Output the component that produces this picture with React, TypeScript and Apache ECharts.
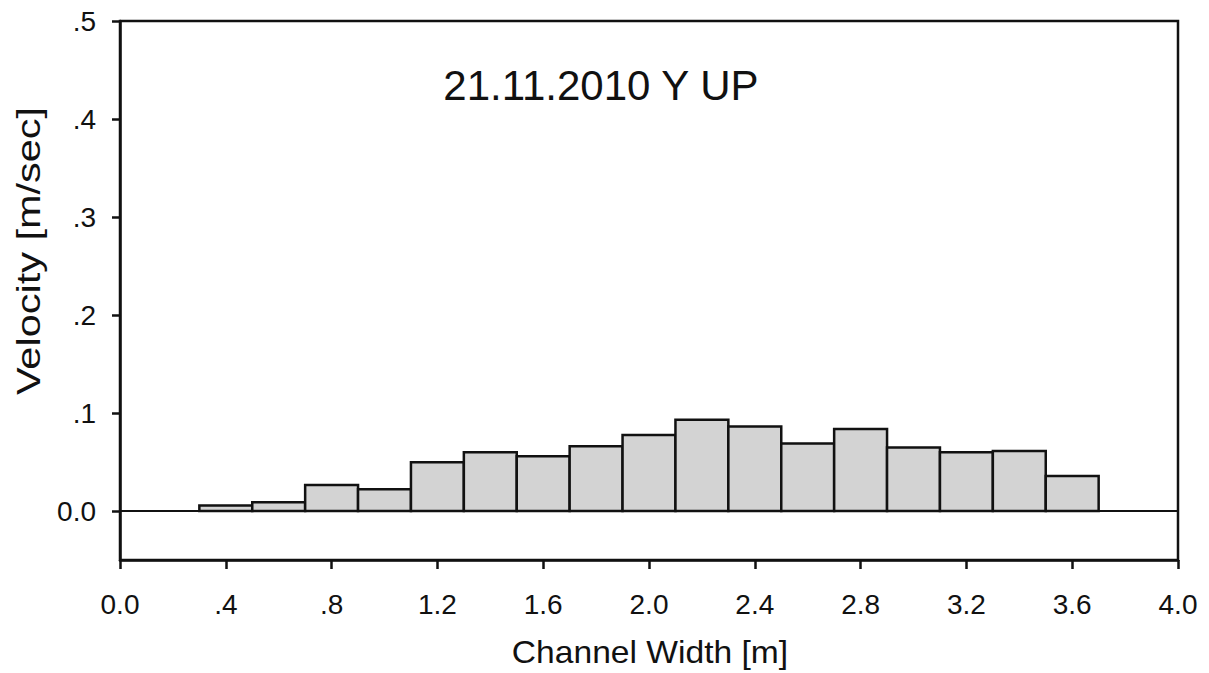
import React, { useEffect, useRef } from "react";
import * as echarts from "echarts";

const binStarts = [0.3, 0.5, 0.7, 0.9, 1.1, 1.3, 1.5, 1.7, 1.9, 2.1, 2.3, 2.5, 2.7, 2.9, 3.1, 3.3, 3.5];
const binEnds = [0.5, 0.7, 0.9, 1.1, 1.3, 1.5, 1.7, 1.9, 2.1, 2.3, 2.5, 2.7, 2.9, 3.1, 3.3, 3.5, 3.7];
const velocities = [0.0055, 0.0089, 0.0266, 0.0222, 0.0497, 0.06, 0.0559, 0.066, 0.0776, 0.093, 0.0862, 0.0688, 0.0838, 0.0648, 0.06, 0.0613, 0.0358];

const xTickValues = [0, 0.4, 0.8, 1.2, 1.6, 2.0, 2.4, 2.8, 3.2, 3.6, 4.0];
const xTickLabels = ["0.0", ".4", ".8", "1.2", "1.6", "2.0", "2.4", "2.8", "3.2", "3.6", "4.0"];
const yTickValues = [0, 0.1, 0.2, 0.3, 0.4, 0.5];
const yTickLabels = ["0.0", ".1", ".2", ".3", ".4", ".5"];

const titleText = "21.11.2010 Y UP";
const xName = "Channel Width [m]";
const yName = "Velocity [m/sec]";

const FONT = "'Liberation Sans', Arial, Helvetica, sans-serif";

function labelFor(values: number[], labels: string[]) {
  return (v: number) => {
    let best = 0;
    for (let i = 1; i < values.length; i++) {
      if (Math.abs(values[i] - v) < Math.abs(values[best] - v)) best = i;
    }
    return labels[best];
  };
}

export default function App() {
  const ref = useRef<HTMLDivElement>(null);
  useEffect(() => {
    document.body.style.margin = "0";
    const chart = echarts.init(ref.current!, null, { renderer: "svg" });
    const data = binStarts.map((s, i) => [s, binEnds[i], velocities[i]]);
    chart.setOption({
      animation: false,
      backgroundColor: "#fff",
      grid: {
        left: 120,
        right: 31,
        top: 21,
        bottom: 113,
        show: true,
        borderColor: "#111",
        borderWidth: 2.5,
        backgroundColor: "transparent",
      },
      graphic: [
        {
          type: "text",
          x: 601,
          y: 85,
          style: {
            text: titleText,
            font: `42px ${FONT}`,
            fill: "#111",
            textAlign: "center",
            textVerticalAlign: "middle",
          },
        },
        {
          type: "text",
          x: 650,
          y: 652,
          scaleX: 1.05,
          style: {
            text: xName,
            font: `32px ${FONT}`,
            fill: "#111",
            textAlign: "center",
            textVerticalAlign: "middle",
          },
        },
        {
          type: "text",
          x: 28,
          y: 251,
          rotation: Math.PI / 2,
          scaleX: 1.22,
          style: {
            text: yName,
            font: `34px ${FONT}`,
            fill: "#111",
            textAlign: "center",
            textVerticalAlign: "middle",
          },
        },
      ],
      xAxis: {
        type: "value",
        min: 0,
        max: 4,
        axisLine: { show: true, onZero: false, lineStyle: { color: "#111", width: 2.5 } },
        axisTick: { show: true, inside: false, length: 9, customValues: xTickValues, lineStyle: { color: "#111", width: 2.5 } },
        axisLabel: {
          customValues: xTickValues,
          formatter: labelFor(xTickValues, xTickLabels),
          fontFamily: FONT,
          fontSize: 28,
          color: "#111",
          margin: 30,
        },
        splitLine: { show: false },
      },
      yAxis: {
        type: "value",
        min: -0.05,
        max: 0.5,
        axisLine: { show: true, onZero: false, lineStyle: { color: "#111", width: 2.5 } },
        axisTick: { show: true, inside: false, length: 8, customValues: yTickValues, lineStyle: { color: "#111", width: 2.5 } },
        axisLabel: {
          customValues: yTickValues,
          formatter: labelFor(yTickValues, yTickLabels),
          fontFamily: FONT,
          fontSize: 28,
          color: "#111",
          margin: 24,
        },
        splitLine: { show: false },
      },
      series: [
        {
          type: "custom",
          data,
          renderItem: (params: any, api: any) => {
            const x0 = api.value(0);
            const x1 = api.value(1);
            const v = api.value(2);
            const p0 = api.coord([x0, v]);
            const p1 = api.coord([x1, 0]);
            return {
              type: "rect",
              shape: { x: p0[0], y: p0[1], width: p1[0] - p0[0], height: p1[1] - p0[1] },
              style: { fill: "#d3d3d3", stroke: "#111", lineWidth: 2.5 },
            };
          },
          encode: { x: [0, 1], y: 2 },
          markLine: {
            silent: true,
            symbol: "none",
            label: { show: false },
            lineStyle: { color: "#111", width: 2, type: "solid" },
            data: [{ yAxis: 0 }],
          },
        },
      ],
    });
    return () => chart.dispose();
  }, []);
  return <div ref={ref} style={{ width: 1209, height: 673 }} />;
}
